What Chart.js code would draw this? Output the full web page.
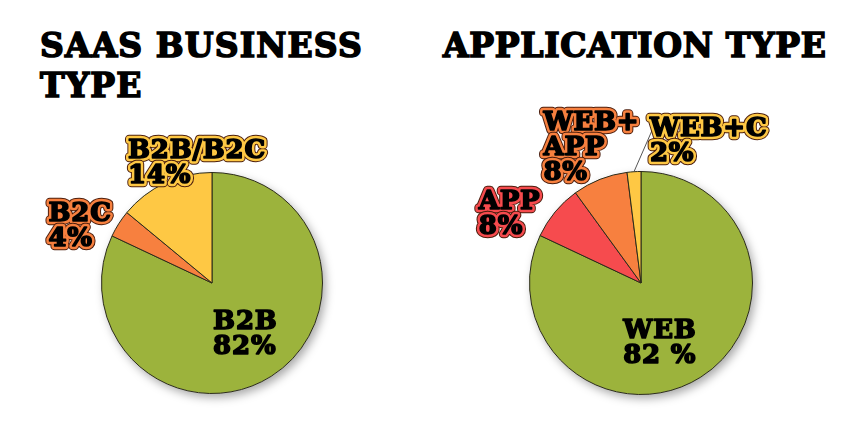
<!DOCTYPE html>
<html>
<head>
<meta charset="utf-8">
<script src="https://cdn.jsdelivr.net/npm/chart.js@4"></script>
<style>
  body { margin: 0; background: #fff; width: 850px; height: 445px; overflow: hidden; position: relative; }
  .title { position: absolute; font-family: "DejaVu Serif", serif; font-weight: bold; font-size: 33px; line-height: 40px; letter-spacing: 1.1px; color: #000; -webkit-text-stroke: 1.6px #000; }
  .wrap { position: absolute; top: 0; width: 425px; height: 445px; }
</style>
</head>
<body>
<div class="title" style="left:40px; top:26px;">SAAS BUSINESS<br>TYPE</div>
<div class="title" style="left:443px; top:26px; letter-spacing:0.7px;">APPLICATION TYPE</div>
<div class="wrap" style="left:0"><canvas id="businessChart"></canvas></div>
<div class="wrap" style="left:425px"><canvas id="appChart"></canvas></div>
<script>
// data
var businessTypes = ['B2B', 'B2C', 'B2B/B2C'];
var businessShares = [82, 4, 14];
var businessPctLabels = ['82%', '4%', '14%'];

var appTypes = ['WEB', 'APP', ['WEB+', 'APP'], 'WEB+C'];
var appShares = [82, 8, 8, 2];
var appPctLabels = ['82 %', '8%', '8%', '2%'];

var GREEN = '#9cb33c', ORANGE = '#f7803f', YELLOW = '#fec844', RED = '#f64b4e';

// soft shadow under the whole pie
var pieShadow = {
    id: 'pieShadow',
    beforeDatasetsDraw: function(chart) {
        var arc = chart.getDatasetMeta(0).data[0];
        if (!arc) return;
        var ctx = chart.ctx;
        ctx.save();
        ctx.shadowColor = 'rgba(0,0,0,0.35)';
        ctx.shadowBlur = 10;
        ctx.shadowOffsetX = 3;
        ctx.shadowOffsetY = 4;
        ctx.fillStyle = '#fff';
        ctx.beginPath();
        ctx.arc(arc.x, arc.y, arc.outerRadius, 0, Math.PI * 2);
        ctx.fill();
        ctx.restore();
    }
};

// outlined slab labels placed relative to pie centre / radius
var sliceLabels = {
    id: 'sliceLabels',
    afterDatasetsDraw: function(chart, args, opts) {
        var ctx = chart.ctx;
        var meta = chart.getDatasetMeta(0);
        var labels = chart.data.labels;
        ctx.save();
        ctx.font = 'bold 26px "DejaVu Serif"';
        ctx.letterSpacing = '0.8px';
        ctx.textAlign = 'left';
        ctx.textBaseline = 'alphabetic';
        ctx.lineJoin = 'round';
        meta.data.forEach(function(arc, i) {
            var p = opts.place[i];
            var r = arc.outerRadius;
            var x = arc.x + p.ax * r;
            var y = arc.y + p.ay * r;
            if (p.leader) {
                var mid = (arc.startAngle + arc.endAngle) / 2;
                ctx.strokeStyle = '#555';
                ctx.lineWidth = 1;
                ctx.beginPath();
                ctx.moveTo(arc.x + Math.cos(mid) * r, arc.y + Math.sin(mid) * r);
                ctx.lineTo(arc.x + p.leader[0] * r, arc.y + p.leader[1] * r);
                ctx.stroke();
            }
            var lines = [].concat(labels[i], opts.pct[i]);
            lines.forEach(function(t, k) {
                var ly = y + k * 25;
                if (p.halo) {
                    ctx.strokeStyle = '#4a1c0c';
                    ctx.lineWidth = 8.5;
                    ctx.strokeText(t, x, ly);
                    ctx.strokeStyle = p.halo;
                    ctx.lineWidth = 6.5;
                    ctx.strokeText(t, x, ly);
                }
                ctx.strokeStyle = '#000';
                ctx.lineWidth = 1.6;
                ctx.strokeText(t, x, ly);
                ctx.fillStyle = '#000';
                ctx.fillText(t, x, ly);
            });
        });
        ctx.restore();
    }
};

function makePie(id, labels, values, colors, pad, pct, place) {
    return new Chart(document.getElementById(id).getContext('2d'), {
        type: 'pie',
        data: {
            labels: labels,
            datasets: [{
                data: values,
                backgroundColor: colors,
                borderColor: '#2b2b1a',
                borderWidth: 1
            }]
        },
        options: {
            responsive: true,
            maintainAspectRatio: false,
            animation: false,
            layout: { padding: pad },
            plugins: {
                legend: { display: false },
                tooltip: { enabled: false },
                sliceLabels: { pct: pct, place: place }
            }
        },
        plugins: [pieShadow, sliceLabels]
    });
}

makePie('businessChart', businessTypes, businessShares, [GREEN, ORANGE, YELLOW],
    { top: 172, bottom: 51, left: 101, right: 102 },
    businessPctLabels,
    [
        { ax: 0.01, ay: 0.42 },
        { ax: -1.48, ay: -0.56, halo: ORANGE },
        { ax: -0.76, ay: -1.135, halo: YELLOW }
    ]);

makePie('appChart', appTypes, appShares, [GREEN, RED, ORANGE, YELLOW],
    { top: 171, bottom: 50, left: 104, right: 97 },
    appPctLabels,
    [
        { ax: -0.16, ay: 0.49 },
        { ax: -1.455, ay: -0.66, halo: RED },
        { ax: -0.875, ay: -1.375, halo: ORANGE },
        { ax: 0.08, ay: -1.32, halo: YELLOW, leader: [0.098, -1.366] }
    ]);
</script>
</body>
</html>
